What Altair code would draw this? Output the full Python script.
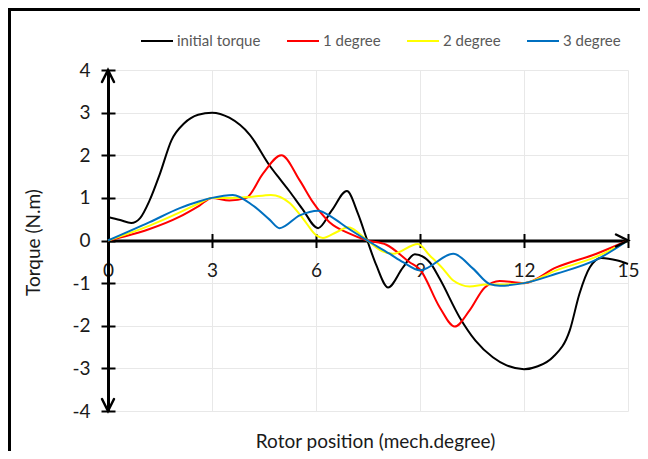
import altair as alt
import pandas as pd

# ---------------- data ----------------
x_ticks = [0, 3, 6, 9, 12, 15]
y_ticks = [-4, -3, -2, -1, 0, 1, 2, 3, 4]
series_names = ["initial torque", "1 degree", "2 degree", "3 degree"]
series_colors = ["#000000", "#ff0000", "#ffff00", "#0070c0"]

init_x = [0, 0.35, 0.67, 0.92, 1.2, 1.5, 1.83, 2.2, 2.6, 3.0, 3.5, 4.09, 4.66, 4.95,
          5.24, 5.6, 6.06, 6.45, 6.89, 7.21, 7.48, 7.74, 8.08, 8.51, 8.85, 9.28,
          9.57, 10.14, 10.6, 11.1, 11.5, 12.0, 12.4, 12.83, 13.32, 13.6, 13.9,
          14.23, 14.7, 15.0]
init_y = [0.55, 0.48, 0.41, 0.52, 0.94, 1.57, 2.35, 2.75, 2.95, 3.0, 2.88, 2.48, 1.76, 1.45,
          1.15, 0.75, 0.29, 0.7, 1.16, 0.63, 0.0, -0.58, -1.1, -0.63, -0.32, -0.51,
          -0.9, -1.8, -2.35, -2.74, -2.93, -3.02, -2.95, -2.74, -2.11, -1.25, -0.63,
          -0.41, -0.47, -0.55]

deg1_x = [0, 0.5, 1.2, 2.07, 2.64, 3.0, 3.5, 3.99, 4.47, 5.0, 5.53, 5.91, 6.39, 6.97,
          7.48, 8.03, 8.7, 9.0, 9.57, 10.0, 10.43, 10.87, 11.3, 12.0, 12.93, 14.09, 15.0]
deg1_y = [0, 0.1, 0.27, 0.56, 0.82, 1.0, 0.94, 1.0, 1.57, 2.0, 1.41, 0.9, 0.43, 0.16,
          0.0, -0.1, -0.51, -0.68, -1.57, -2.02, -1.64, -1.1, -0.95, -1.0, -0.63, -0.31, 0.0]

deg2_x = [0, 1.2, 2.07, 2.64, 3.0, 3.5, 4.09, 4.7, 5.24, 5.63, 6.01, 6.2, 6.6, 6.93,
          7.48, 7.9, 8.22, 8.94, 9.28, 9.66, 9.96, 10.43, 10.91, 11.3, 12.0, 12.93, 14.09, 15.0]
deg2_y = [0, 0.35, 0.66, 0.88, 1.0, 1.0, 1.02, 1.07, 0.88, 0.51, 0.12, 0.06, 0.2, 0.31,
          0.0, -0.25, -0.31, -0.08, -0.35, -0.66, -0.94, -1.08, -1.03, -1.03, -1.0, -0.7, -0.38, 0.0]

deg3_x = [0, 1.2, 2.07, 2.64, 3.0, 3.6, 4.18, 4.66, 4.95, 5.53, 6.06, 6.49, 6.88, 7.48,
          8.12, 8.51, 9.0, 9.96, 10.53, 11.01, 11.3, 12.0, 12.93, 14.09, 15.0]
deg3_y = [0, 0.43, 0.76, 0.92, 1.0, 1.07, 0.82, 0.49, 0.29, 0.59, 0.7, 0.53, 0.31, 0.0,
          -0.31, -0.51, -0.7, -0.31, -0.66, -1.02, -1.06, -1.0, -0.78, -0.45, 0.0]

x_title = "Rotor position (mech.degree)"
y_title = "Torque (N.m)"

# ---------------- table ----------------
frames = []
for name, xs, ys in zip(series_names,
                        [init_x, deg1_x, deg2_x, deg3_x],
                        [init_y, deg1_y, deg2_y, deg3_y]):
    frames.append(pd.DataFrame({"x": xs, "y": ys, "series": name}))
df = pd.concat(frames, ignore_index=True)

W, H = 520, 341
FONT = "Lato"
xscale = alt.Scale(domain=[0, 15], nice=False, zero=False)
yscale = alt.Scale(domain=[-4, 4], nice=False)
zero_off = -(H / 2)
plain_label = "'' + datum.value"

color = alt.Color(
    "series:N",
    scale=alt.Scale(domain=series_names, range=series_colors),
    legend=alt.Legend(
        title=None, orient="none", legendX=32, legendY=-46, direction="horizontal",
        symbolType="stroke", symbolSize=1024, symbolStrokeWidth=2,
        labelFont=FONT, labelFontSize=15, labelColor="#595959", labelOffset=3,
        columnPadding=22,
    ),
)

lines = alt.Chart(df).mark_line(interpolate="monotone", strokeWidth=2).encode(
    x=alt.X("x:Q", scale=xscale, axis=alt.Axis(
        orient="bottom", offset=zero_off, values=x_ticks, grid=True,
        gridColor="#e8e8e8", gridWidth=1,
        domainColor="black", domainWidth=3, tickColor="black", tickWidth=2, tickSize=7,
        labelFont=FONT, labelFontSize=19, labelColor="#1a1a1a", labelPadding=14,
        labelFlush=False, labelOverlap=False, labelBaseline="top",
        labelExpr=plain_label,
        title=x_title, titleFont=FONT, titleFontSize=19, titleFontWeight="normal",
        titleColor="#1a1a1a", titleX=267, titleY=201, titleAlign="center",
        titleBaseline="middle")),
    y=alt.Y("y:Q", scale=yscale, axis=alt.Axis(
        orient="left", values=y_ticks, grid=True, gridColor="#e8e8e8", gridWidth=1,
        domainColor="black", domainWidth=3, tickColor="black", tickWidth=2, tickSize=7,
        labelFont=FONT, labelFontSize=19, labelColor="#1a1a1a", labelPadding=11,
        labelFlush=False, labelOverlap=False, labelExpr=plain_label,
        title=y_title, titleFont=FONT, titleFontSize=19, titleFontWeight="normal",
        titleColor="#1a1a1a", titleX=-75, titleY=172, titleAlign="center",
        titleBaseline="middle", titleAngle=270)),
    color=color,
)

# second (tick-only) axes so ticks cross the axis lines
ticks = alt.Chart(df).mark_point(opacity=0).encode(
    x=alt.X("x:Q", scale=xscale, axis=alt.Axis(
        orient="top", offset=zero_off, values=x_ticks, grid=False, domain=False,
        labels=False, tickColor="black", tickWidth=2, tickSize=7, title=None)),
    y=alt.Y("y:Q", scale=yscale, axis=alt.Axis(
        orient="right", offset=-W, values=y_ticks, grid=False, domain=False,
        labels=False, tickColor="black", tickWidth=2, tickSize=7, title=None)),
)

# arrow heads at the axis ends
arrow_up = pd.DataFrame({"x": [x_ticks[0]], "y": [y_ticks[-1]]})
arrow_down = pd.DataFrame({"x": [x_ticks[0]], "y": [y_ticks[0]]})
arrow_right = pd.DataFrame({"x": [x_ticks[-1]], "y": [0]})

def arrow(data, path):
    return alt.Chart(data).mark_point(
        shape=path, size=144, filled=False, stroke="black", strokeWidth=2.5,
        opacity=1, strokeCap="round", strokeJoin="miter").encode(
        x=alt.X("x:Q", scale=xscale, axis=None),
        y=alt.Y("y:Q", scale=yscale, axis=None),
    )

a1 = arrow(arrow_up, "M -1 2 L 0 0 L 1 2")
a2 = arrow(arrow_down, "M -1 -2 L 0 0 L 1 -2")
a3 = arrow(arrow_right, "M -2 -1 L 0 0 L -2 1")

# outer frame (left and top edges)
frame_left = alt.Chart(arrow_up).mark_rule(color="black", strokeWidth=3).encode(
    x=alt.value(-98.5), y=alt.value(-62), y2=alt.value(H + 40))
frame_top = alt.Chart(arrow_up).mark_rule(color="black", strokeWidth=3).encode(
    x=alt.value(-100), x2=alt.value(W + 12), y=alt.value(-60.5))

chart = alt.layer(lines, ticks, a1, a2, a3, frame_left, frame_top).resolve_axis(
    x="independent", y="independent"
).properties(
    width=W, height=H,
    autosize=alt.AutoSizeParams(type="none"),
    padding={"left": 100, "top": 62, "right": 12, "bottom": 40},
    background="white",
).configure_view(stroke="transparent")

chart.save("out.html", embed_options={"renderer": "svg", "actions": False})
